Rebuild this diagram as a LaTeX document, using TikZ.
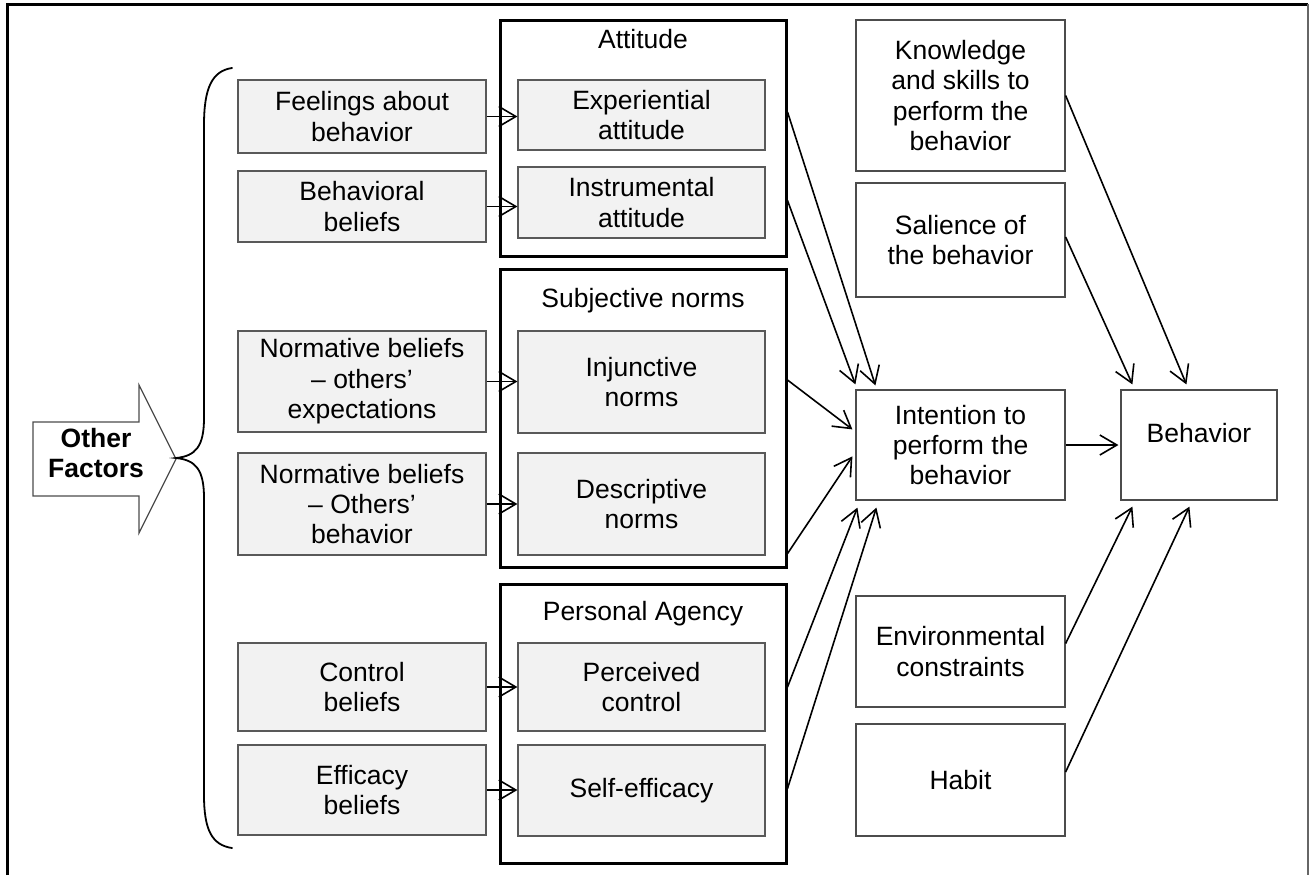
\documentclass[tikz,border=0pt]{standalone}
\usepackage{fontspec}
\setmainfont{Liberation Sans}
\usetikzlibrary{arrows.meta,calc}

\begin{document}
\begin{tikzpicture}[x=0.5pt,y=-0.5pt,
  every node/.style={font=\fontsize{13.25pt}{15.2pt}\selectfont, align=center, inner sep=0pt},
  leftbox/.style={draw=black!65, fill=black!5, line width=0.6pt, minimum width=124pt},
  innerbox/.style={draw=black!65, fill=black!5, line width=0.6pt, minimum width=123.5pt},
  groupbox/.style={draw=black, line width=1.5pt, minimum width=143pt},
  wbox/.style={draw=black!70, fill=white, line width=0.6pt, minimum width=104.5pt},
  title/.style={anchor=base},
  link/.style={-{Straight Barb[length=8.5pt,width=10pt]}, line width=0.8pt},
  bracestyle/.style={line width=0.9pt, line cap=round}
]
\useasboundingbox (0,0) rectangle (1309,875);

% page frame (open at the bottom)
\draw[line width=1.5pt] (7,875) -- (7,4) -- (1308,4);
\draw[black!60, line width=1pt] (1308,4) -- (1308,875);

% "Other Factors" block arrow and brace
\draw[draw=black!70, fill=white, line width=0.6pt]
  (33,422) -- (139,422) -- (139,385) -- (176,459) -- (139,533) -- (139,496) -- (33,496) -- cycle;
\node[font=\fontsize{13.25pt}{15.2pt}\selectfont\bfseries] (other) at (96,453) {Other\\Factors};
\draw[bracestyle] (232,68) .. controls (212,71) and (204,88) .. (204,125)
  -- (204,418) .. controls (204,446) and (196,456) .. (176,458)
  .. controls (196,460) and (204,470) .. (204,498)
  -- (204,795) .. controls (204,830) and (212,845) .. (232,848);

% determinant boxes
\node[leftbox, minimum height=36.5pt] (feel) at (362,116.5) {Feelings about\\behavior};
\node[leftbox, minimum height=35.5pt] (behb) at (362,206.5) {Behavioral\\beliefs};
\node[leftbox, minimum height=50.5pt] (nexp) at (362,381.5) {Normative beliefs\\– others’\\expectations};
\node[leftbox, minimum height=51pt] (nbeh) at (362,504) {Normative beliefs\\– Others’\\behavior};
\node[leftbox, minimum height=44pt] (ctrl) at (362,687) {Control\\beliefs};
\node[leftbox, minimum height=45pt] (effb) at (362,790) {Efficacy\\beliefs};

% construct groups
\node[groupbox, minimum height=118pt] (att) at (643,138) {};
\node[groupbox, minimum height=149pt] (subj) at (643,418) {};
\node[groupbox, minimum height=139.5pt] (pa) at (643,723.5) {};
\node[title] (attt) at (643,48) {Attitude};
\node[title] (subjt) at (643,307) {Subjective norms};
\node[title] (pat) at (643,620) {Personal Agency};

\node[innerbox, minimum height=35pt] (exp) at (641.5,115) {Experiential\\attitude};
\node[innerbox, minimum height=35.5pt] (instr) at (641.5,202.5) {Instrumental\\attitude};
\node[innerbox, minimum height=51pt] (inj) at (641.5,382) {Injunctive\\norms};
\node[innerbox, minimum height=51pt] (desc) at (641.5,504) {Descriptive\\norms};
\node[innerbox, minimum height=44pt] (perc) at (641.5,687) {Perceived\\control};
\node[innerbox, minimum height=45.5pt] (selfe) at (641.5,790.5) {Self-efficacy};

% right-hand column
\node[wbox, minimum height=75.5pt] (know) at (960.5,95.5) {Knowledge\\and skills to\\perform the\\behavior};
\node[wbox, minimum height=57pt] (sal) at (960.5,240) {Salience of\\the behavior};
\node[wbox, minimum height=55pt] (int) at (960.5,445) {Intention to\\perform the\\behavior};
\node[wbox, minimum height=55.5pt] (env) at (960.5,651.5) {Environmental\\constraints};
\node[wbox, minimum height=56pt] (habit) at (960.5,780) {Habit};
\node[wbox, minimum height=55pt, minimum width=78pt] (beh) at (1199,445) {\raisebox{6pt}[\height][\depth]{Behavior}};

% determinants -> constructs
\draw[link] (feel.east) -- (feel.east -| exp.west);
\draw[link] (behb.east) -- (behb.east -| instr.west);
\draw[link] (nexp.east) -- (nexp.east -| inj.west);
\draw[link] (nbeh.east) -- (nbeh.east -| desc.west);
\draw[link] (ctrl.east) -- (ctrl.east -| perc.west);
\draw[link] (effb.east) -- (effb.east -| selfe.west);

% constructs -> intention
\draw[link] ($(att.east |- exp.center)+(0,-3)$) -- ($(int.north west)+(20,-4)$);
\draw[link] ($(att.east |- instr.center)+(0,-2)$) -- ($(int.north west)+(0,-5)$);
\draw[link] ($(subj.east |- inj.center)+(0,-2)$) -- ($(int.north west)+(-3,40)$);
\draw[link] ($(subj.east |- desc.south)+(0,-2)$) -- ($(int.north west)+(-3,67)$);
\draw[link] ($(pa.east |- perc.center)$) -- ($(int.south west)+(2,7)$);
\draw[link] ($(pa.east |- selfe.center)+(0,-2)$) -- ($(int.south west)+(21,7)$);

% intention and other factors -> behavior
\draw[link] (int.east) -- ($(beh.west)+(-2,0)$);
\draw[link] (know.east) -- ($(beh.north west)+(66,-5)$);
\draw[link] ($(sal.east)+(0,-3)$) -- ($(beh.north west)+(12,-5)$);
\draw[link] ($(env.east)+(0,-8)$) -- ($(beh.south west)+(12,6)$);
\draw[link] ($(habit.east)+(0,-8)$) -- ($(beh.south west)+(69,6)$);
\end{tikzpicture}
\end{document}
